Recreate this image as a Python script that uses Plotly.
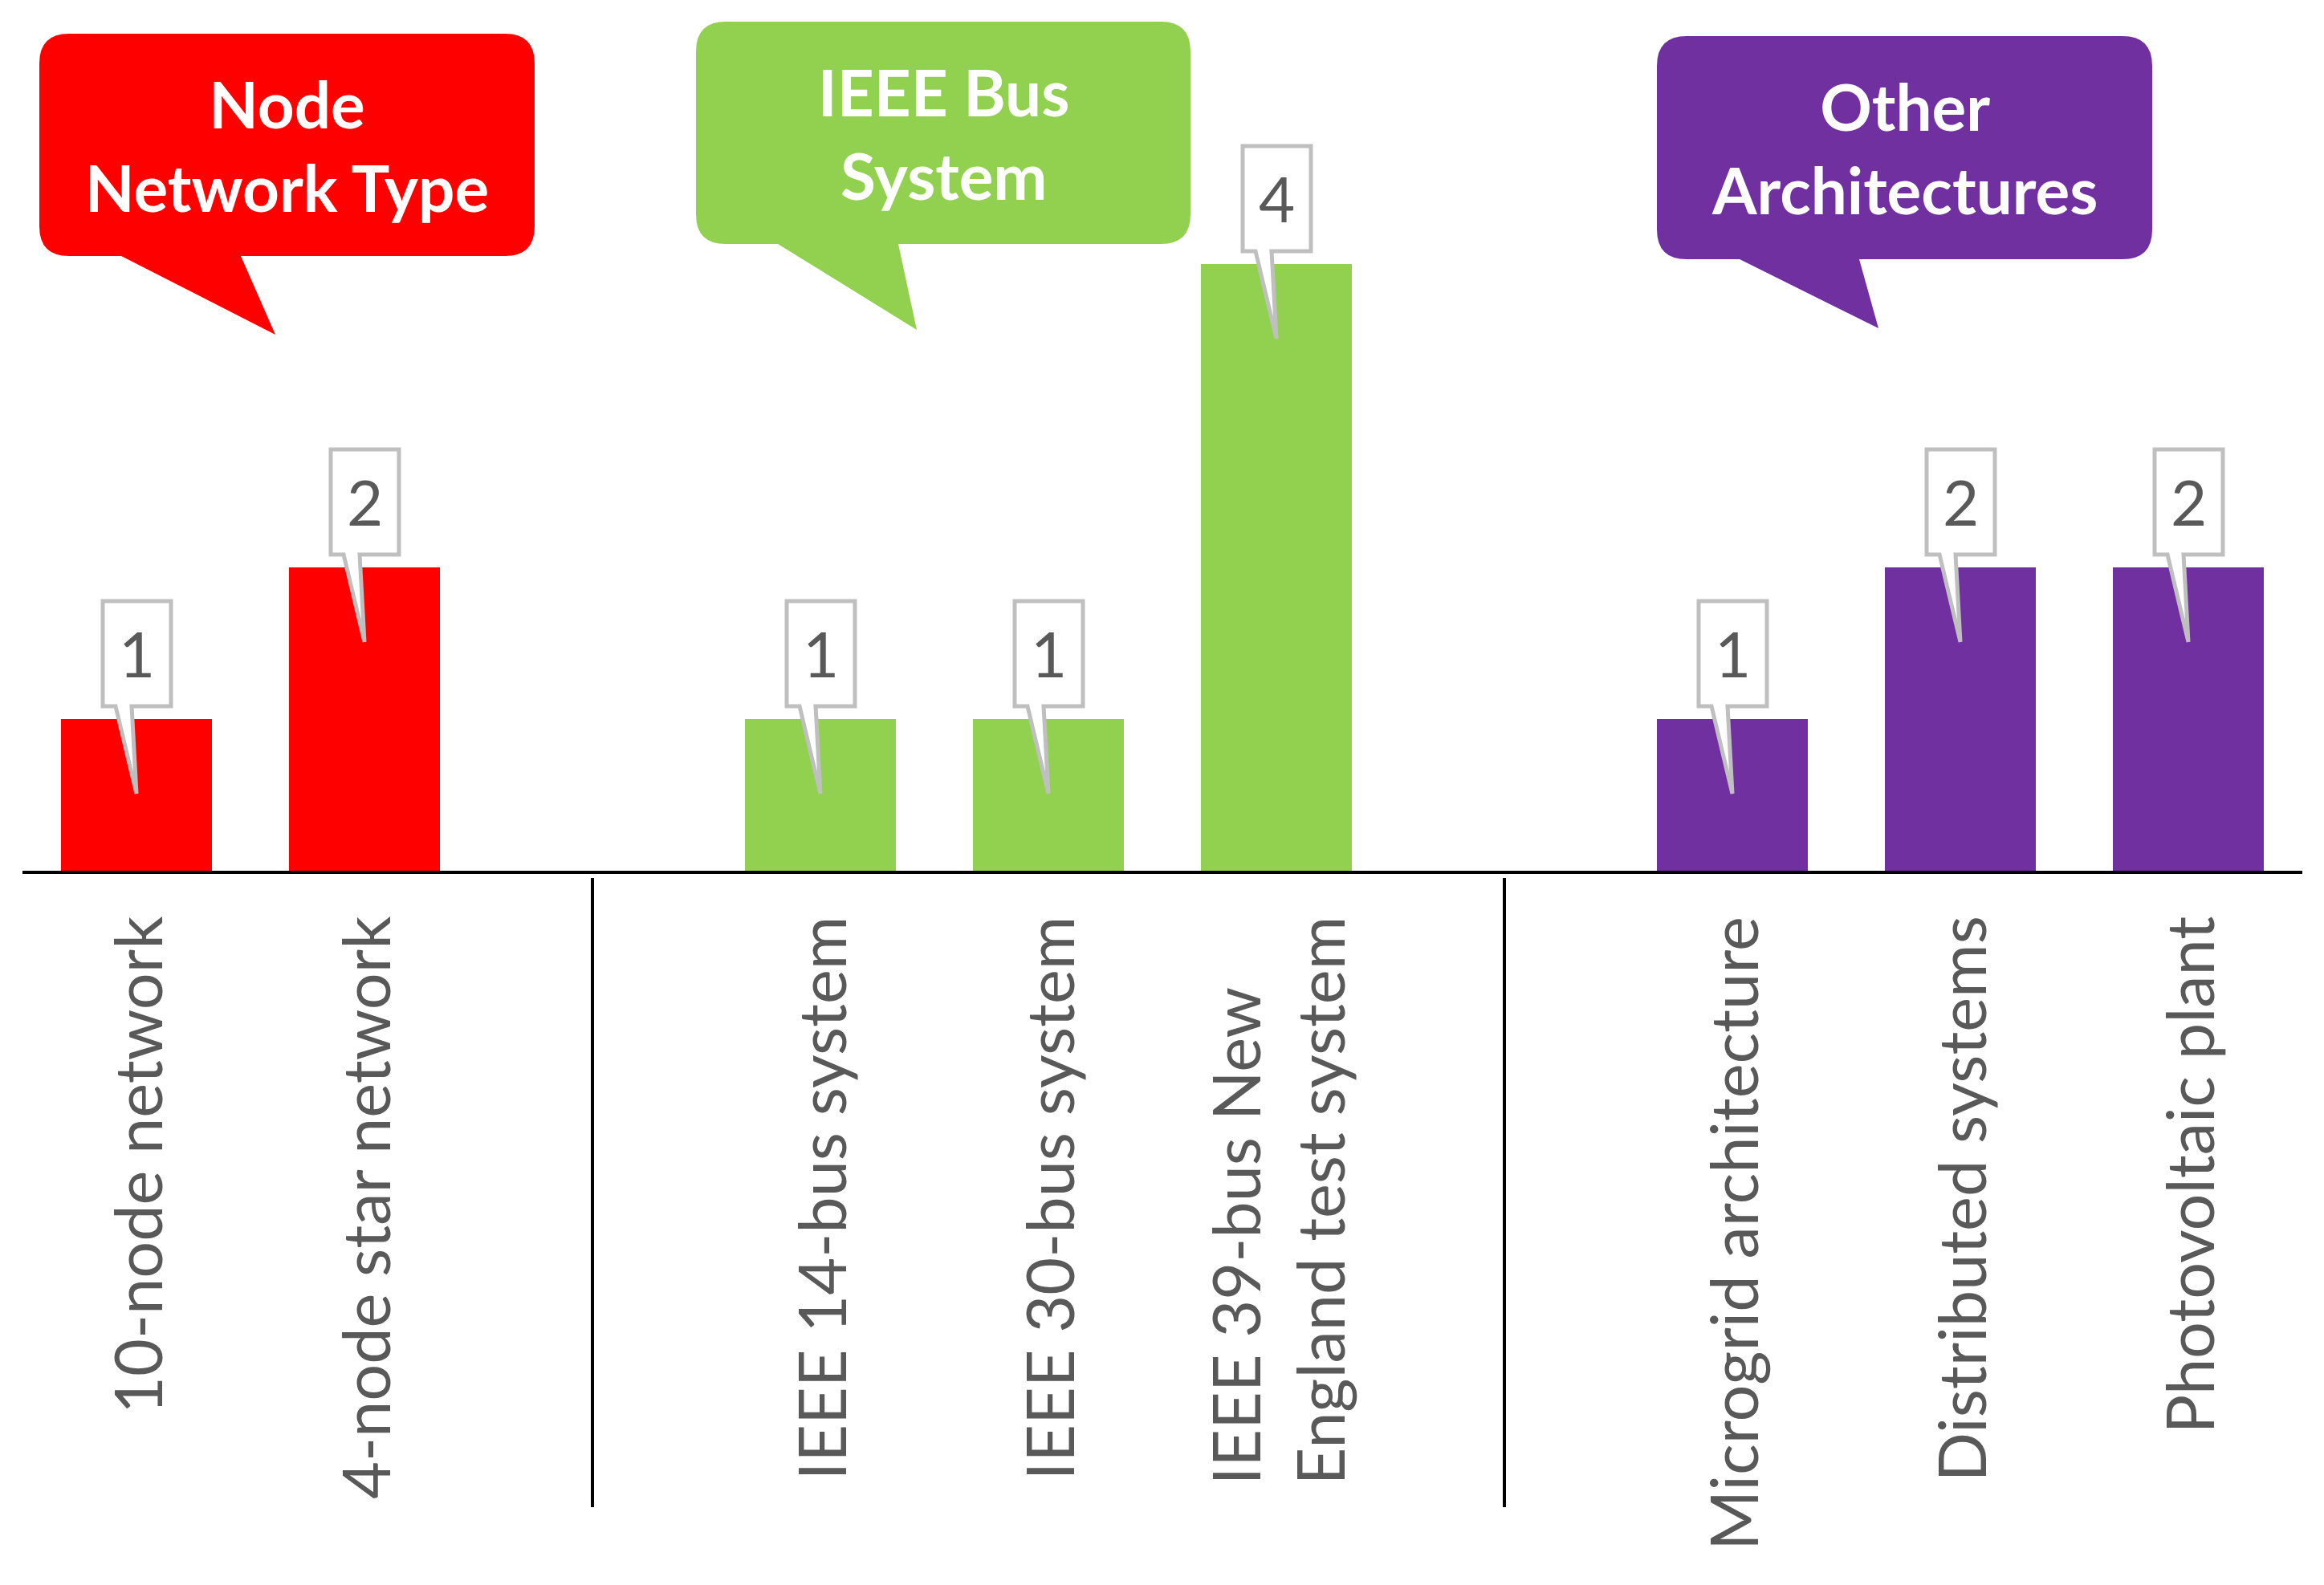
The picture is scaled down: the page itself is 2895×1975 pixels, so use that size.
import plotly.graph_objects as go

# data
group_names = ["Node<br>Network Type", "IEEE Bus<br>System", "Other<br>Architectures"]
group_colors = ["#FF0000", "#92D050", "#7030A0"]

node_labels = ["10-node network", "4-node star network"]
node_counts = [1, 2]

ieee_labels = ["IEEE 14-bus system", "IEEE 30-bus system", "IEEE 39-bus New<br>England test system"]
ieee_counts = [1, 1, 4]

other_labels = ["Microgrid architecture", "Distributed systems", "Photovoltaic plant"]
other_counts = [1, 2, 2]

series = [(node_labels, node_counts), (ieee_labels, ieee_counts), (other_labels, other_counts)]

# slot positions, one empty slot between groups
slots, gaps = [], []
pos = 0
for labels, counts in series:
    slots.append(list(range(pos, pos + len(labels))))
    pos += len(labels)
    gaps.append(pos)
    pos += 1
gaps = gaps[:-1]

W, H = 2895, 1975
OFF = 8                 # page body margin
PL, PT = 28 - OFF, 0    # plot area left / top (figure px)
PB = 1085 - OFF         # plot area bottom (axis line)
PR = 2868 - OFF
XR = [-0.5, pos - 1 - 0.5]
UNIT = 189              # px per count
YR = [0, PB / UNIT]

FONT = "Lato"
GREY = "#595959"

fig = go.Figure()

for (labels, counts), xs, col in zip(series, slots, group_colors):
    fig.add_trace(go.Bar(
        x = xs,
        y = counts,
        width = 0.665,
        marker = dict(color = col, line = dict(width = 0)),
        hoverinfo = 'skip',
        showlegend = False
    ))

shapes = []
annotations = []

# value callouts (pixel path relative to bar top)
callout = "M -42,147 L 43,147 L 43,16 L -6,16 L 0,-93 L -26,16 L -42,16 Z"
for (labels, counts), xs in zip(series, slots):
    for x, v, lab in zip(xs, counts, labels):
        shapes.append(dict(
            type = 'path', xref = 'x', yref = 'y',
            xsizemode = 'pixel', ysizemode = 'pixel',
            xanchor = x, yanchor = v, path = callout,
            fillcolor = 'white', line = dict(color = '#BFBFBF', width = 5),
            layer = 'above'
        ))
        annotations.append(dict(
            x = x, y = v, xref = 'x', yref = 'y', yshift = 82,
            text = str(v), showarrow = False,
            font = dict(family = FONT, size = 78, color = GREY)
        ))
        annotations.append(dict(
            x = x, y = 0, xref = 'x', yref = 'paper',
            yanchor = 'top', xanchor = 'center', yshift = -55,
            textangle = -90, align = 'left',
            text = lab, showarrow = False,
            font = dict(family = FONT, size = 81, color = GREY)
        ))

# dividers between groups
for g in gaps:
    fx = (g - XR[0]) / (XR[1] - XR[0])
    shapes.append(dict(
        type = 'line', xref = 'paper', yref = 'paper',
        x0 = fx, x1 = fx, ysizemode = 'pixel', yanchor = 0,
        y0 = -9, y1 = -793,
        line = dict(color = 'black', width = 4)
    ))

# speech bubbles (page px): left, top, width, height, tail left, tail right, tip
bubbles = [
    (49, 42, 617, 277, 151, 300, (343, 417)),
    (867, 27, 616, 277, 969, 1119, (1142, 411)),
    (2064, 45, 617, 278, 2167, 2316, (2340, 409)),
]

def pt(px, py):
    return "%g,%g" % (px - OFF - PL, -(py - OFF - PT))

r = 37
for (l, t, w, h, tl, tr, tip), col, name in zip(bubbles, group_colors, group_names):
    rr, b = l + w, t + h
    path = ("M " + pt(l + r, t) + " L " + pt(rr - r, t) +
            " Q " + pt(rr, t) + " " + pt(rr, t + r) +
            " L " + pt(rr, b - r) + " Q " + pt(rr, b) + " " + pt(rr - r, b) +
            " L " + pt(tr, b) + " L " + pt(*tip) + " L " + pt(tl, b) +
            " L " + pt(l + r, b) + " Q " + pt(l, b) + " " + pt(l, b - r) +
            " L " + pt(l, t + r) + " Q " + pt(l, t) + " " + pt(l + r, t) + " Z")
    shapes.append(dict(
        type = 'path', xref = 'paper', yref = 'paper',
        xsizemode = 'pixel', ysizemode = 'pixel', xanchor = 0, yanchor = 1,
        path = path, fillcolor = col, line = dict(width = 0), layer = 'above'
    ))
    annotations.append(dict(
        x = 0, y = 1, xref = 'paper', yref = 'paper',
        xanchor = 'center', yanchor = 'middle',
        xshift = l + w / 2 - OFF - PL, yshift = -(t + h / 2 - OFF - PT),
        text = "<b>" + name + "</b>", showarrow = False,
        font = dict(family = FONT, size = 80, color = 'white')
    ))

fig.update_layout(
    width = W, height = H,
    margin = dict(l = PL, r = W - PR, t = PT, b = H - PB, pad = 0),
    paper_bgcolor = 'white', plot_bgcolor = 'white',
    xaxis = dict(range = XR, showline = True, linecolor = 'black', linewidth = 4,
                 showgrid = False, zeroline = False, showticklabels = False, ticks = ''),
    yaxis = dict(range = YR, visible = False, showgrid = False, zeroline = False),
    shapes = shapes,
    annotations = annotations,
    bargap = 0
)

fig.write_html("out.html")
